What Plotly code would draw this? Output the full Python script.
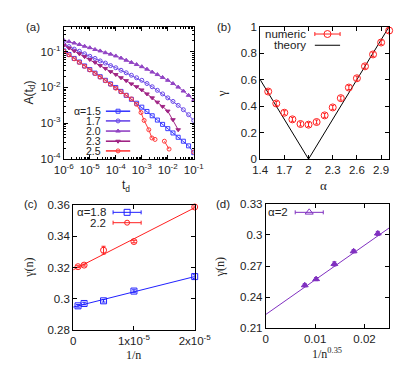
import plotly.graph_objects as go

W, H = 415, 369

# ---------------- panel (a) data (log10 values) ----------------
a_grid = [-6.0, -5.8, -5.6, -5.4, -5.2, -5.0, -4.8, -4.6, -4.4, -4.2, -4.0, -3.8, -3.6,
          -3.4, -3.2, -3.0, -2.8, -2.6, -2.4, -2.2, -2.0, -1.8, -1.6, -1.4, -1.2, -1.0]
a15 = [-0.98, -1.08, -1.19, -1.29, -1.40, -1.50, -1.60, -1.70, -1.80, -1.90, -2.00, -2.11, -2.22,
       -2.33, -2.44, -2.55, -2.67, -2.79, -2.91, -3.03, -3.15, -3.27, -3.39, -3.50, -3.63, -3.82]
a17 = [-0.80, -0.86, -0.93, -0.99, -1.06, -1.13, -1.19, -1.26, -1.32, -1.39, -1.45, -1.52, -1.59,
       -1.66, -1.73, -1.80, -1.89, -1.98, -2.08, -2.18, -2.29, -2.39, -2.50, -2.62, -2.76, -2.92]
a20 = [-0.68, -0.72, -0.76, -0.80, -0.85, -0.89, -0.94, -0.98, -1.03, -1.07, -1.12, -1.18, -1.24,
       -1.30, -1.36, -1.42, -1.49, -1.57, -1.64, -1.72, -1.80, -1.89, -1.99, -2.10, -2.22, -2.36]
a23_x = [-6.0, -5.8, -5.6, -5.4, -5.2, -5.0, -4.8, -4.6, -4.4, -4.2, -4.0, -3.8, -3.6,
         -3.4, -3.2, -3.0, -2.8, -2.6, -2.4, -2.2, -2.0, -1.8, -1.6]
a23 = [-0.82, -0.90, -0.98, -1.06, -1.14, -1.22, -1.30, -1.39, -1.47, -1.56, -1.64, -1.73, -1.81,
       -1.90, -1.98, -2.07, -2.18, -2.29, -2.41, -2.53, -2.66, -2.90, -3.18]
a25_x = [-6.0, -5.8, -5.6, -5.4, -5.2, -5.0, -4.8, -4.6, -4.4, -4.2, -4.0, -3.8, -3.6,
         -3.4, -3.2, -3.03, -2.91, -2.73, -2.61, -2.49, None, -2.13, -1.95, None, -1.0]
a25 = [-0.99, -1.09, -1.20, -1.30, -1.41, -1.51, -1.61, -1.71, -1.81, -1.91, -2.02, -2.12, -2.22,
       -2.32, -2.47, -2.70, -2.92, -3.18, -3.41, -3.45, None, -3.50, -3.72, None, -3.80]
a_labels = ["α=1.5", "1.7", "2.0", "2.3", "2.5"]
a_colors = ["#3a3aff", "#6a48e8", "#9244c4", "#a02484", "#ff3a3a"]
a_symbols = ["square-open", "circle-open", "triangle-up", "triangle-down", "circle-open"]
a_xticks = [1e-6, 1e-5, 1e-4, 1e-3, 1e-2, 1e-1]
a_xtext = ["10<sup>-6</sup>", "10<sup>-5</sup>", "10<sup>-4</sup>", "10<sup>-3</sup>",
           "10<sup>-2</sup>", "10<sup>-1</sup>"]
a_yticks = [1e-4, 1e-3, 1e-2, 1e-1]
a_ytext = ["10<sup>-4</sup>", "10<sup>-3</sup>", "10<sup>-2</sup>", "10<sup>-1</sup>"]

# ---------------- panel (b) ----------------
b_alpha = [1.5, 1.6, 1.7, 1.8, 1.9, 2.0, 2.1, 2.2, 2.3, 2.4, 2.5, 2.6, 2.7, 2.8, 2.9, 3.0]
b_gamma = [0.51, 0.42, 0.35, 0.30, 0.265, 0.26, 0.28, 0.33, 0.39, 0.46, 0.54, 0.61, 0.70, 0.79, 0.88, 0.97]
b_err = [0.015] * 16
b_theory_alpha = [1.4, 2.0, 3.0]
b_theory_gamma = [0.6, 0.0, 1.0]

# ---------------- panel (c) ----------------
c_x = [8e-7, 1.8e-6, 5e-6, 1e-5, 2e-5]
c_y18 = [0.2956, 0.2971, 0.2988, 0.3050, 0.3142]
c_e18 = [0.0008, 0.0008, 0.0008, 0.0008, 0.0012]
c_y22 = [0.3205, 0.3215, 0.3310, 0.3365, 0.3585]
c_e22 = [0.0006, 0.0006, 0.0025, 0.0008, 0.0006]
c_fit_x = [0.0, 2e-5]
c_fit18 = [0.2948, 0.3142]
c_fit22 = [0.3185, 0.3580]

# ---------------- panel (d) ----------------
d_x = [0.0079, 0.0102, 0.0139, 0.0178, 0.0227]
d_y = [0.2515, 0.2574, 0.2720, 0.2842, 0.3013]
d_e = [0.0015, 0.0015, 0.0020, 0.0015, 0.0020]
d_fit_x = [0.0, 0.025]
d_fit_y = [0.2234, 0.3066]


def px_x(x0, x1):
    return [x0 / W, x1 / W]


def px_y(y0, y1):
    return [1 - y1 / H, 1 - y0 / H]


fig = go.Figure()
TXT = "#222222"
FONT = "Liberation Sans"
SERIF = "Liberation Serif"

# panel (a)
for xs, ys, lab, col, sym in zip([a_grid, a_grid, a_grid, a23_x, a25_x],
                                 [a15, a17, a20, a23, a25], a_labels, a_colors, a_symbols):
    fig.add_trace(go.Scatter(
        x=[None if v is None else 10 ** v for v in xs],
        y=[None if v is None else 10 ** v for v in ys],
        mode="lines+markers", line=dict(color=col, width=1),
        marker=dict(symbol=sym, size=4, color=col, line=dict(color=col, width=1)),
        connectgaps=False, showlegend=False, xaxis="x", yaxis="y"))

# panel (b)
fig.add_trace(go.Scatter(x=b_theory_alpha, y=b_theory_gamma, mode="lines",
                         line=dict(color="black", width=1), showlegend=False,
                         xaxis="x2", yaxis="y2"))
fig.add_trace(go.Scatter(x=b_alpha, y=b_gamma, mode="markers",
                         marker=dict(symbol="circle-open", size=7, color="#ff2020",
                                     line=dict(width=1)),
                         error_y=dict(type="data", array=b_err, color="#ff2020",
                                      thickness=1, width=1.5),
                         showlegend=False, xaxis="x2", yaxis="y2", cliponaxis=False))

# panel (c)
fig.add_trace(go.Scatter(x=c_fit_x, y=c_fit18, mode="lines", line=dict(color="#2020ff", width=1),
                         showlegend=False, xaxis="x3", yaxis="y3"))
fig.add_trace(go.Scatter(x=c_fit_x, y=c_fit22, mode="lines", line=dict(color="#ff2020", width=1),
                         showlegend=False, xaxis="x3", yaxis="y3"))
fig.add_trace(go.Scatter(x=c_x, y=c_y18, mode="markers",
                         marker=dict(symbol="square-open", size=6, color="#2020ff", line=dict(width=1)),
                         error_y=dict(type="data", array=c_e18, color="#2020ff", thickness=1, width=2),
                         showlegend=False, xaxis="x3", yaxis="y3", cliponaxis=False))
fig.add_trace(go.Scatter(x=c_x, y=c_y22, mode="markers",
                         marker=dict(symbol="circle-open", size=6, color="#ff2020", line=dict(width=1)),
                         error_y=dict(type="data", array=c_e22, color="#ff2020", thickness=1, width=2),
                         showlegend=False, xaxis="x3", yaxis="y3", cliponaxis=False))

# panel (d)
PURP = "#8030c0"
fig.add_trace(go.Scatter(x=d_fit_x, y=d_fit_y, mode="lines", line=dict(color=PURP, width=1),
                         showlegend=False, xaxis="x4", yaxis="y4"))
fig.add_trace(go.Scatter(x=d_x, y=d_y, mode="markers",
                         marker=dict(symbol="triangle-up", size=6, color=PURP, line=dict(width=1, color=PURP)),
                         error_y=dict(type="data", array=d_e, color=PURP, thickness=1, width=2),
                         showlegend=False, xaxis="x4", yaxis="y4"))

# ---------------- key samples on a pixel overlay axis ----------------
def key(xc, yc, half, col, sym, size, err=False, lw=1):
    if err:
        fig.add_trace(go.Scatter(x=[xc], y=[yc], mode="markers",
                                 marker=dict(symbol=sym, size=size, color=col, line=dict(width=1, color=col)),
                                 error_x=dict(type="data", array=[half], color=col, thickness=1, width=2),
                                 showlegend=False, xaxis="x5", yaxis="y5"))
    else:
        fig.add_trace(go.Scatter(x=[xc - half, xc + half], y=[yc, yc], mode="lines",
                                 line=dict(color=col, width=lw), showlegend=False,
                                 xaxis="x5", yaxis="y5"))
        if sym:
            fig.add_trace(go.Scatter(x=[xc], y=[yc], mode="markers",
                                     marker=dict(symbol=sym, size=size, color=col, line=dict(width=1, color=col)),
                                     showlegend=False, xaxis="x5", yaxis="y5"))


annotations = []


def text(x, y, s, size=11, xanchor="center", font=FONT, angle=0, pad=1):
    annotations.append(dict(x=x / W, y=1 - y / H, xref="paper", yref="paper", text=s,
                            showarrow=False, xanchor=xanchor, yanchor="middle", textangle=angle,
                            borderpad=pad,
                            font=dict(family=font, size=size, color=TXT)))


a_rows = [100.5, 110.5, 121, 131.5, 141.5]
for lab, col, sym, yy in zip(a_labels, a_colors, a_symbols, a_rows):
    key(107, yy, 13, col, sym, 4, lw=1.6)
    text(90, yy, lab, size=10.5, xanchor="right", pad=0)

key(331, 20.7, 13.5, "#ff2020", "circle-open", 7, err=True)
text(309, 20.7, "numeric", size=11.5, xanchor="right", pad=0)
key(331, 32.3, 13.5, "black", None, 0)
text(309, 32.3, "theory", size=11.5, xanchor="right", pad=0)

key(116.7, 205, 15, "#2020ff", "square-open", 6, err=True)
text(95, 205, "α=1.8", size=11.5, xanchor="right", pad=0)
key(116.7, 215.7, 15, "#ff2020", "circle-open", 5, err=True)
text(95, 215.7, "2.2", size=11.5, xanchor="right", pad=0)

key(311.5, 205, 15, PURP, "triangle-up-open", 7, err=True)
text(291, 205, "α=2", size=11.5, xanchor="right")

# panel labels and axis titles
text(6, 13, "(a)", size=11.5, xanchor="left")
text(211, 13, "(b)", size=11.5, xanchor="left")
text(4, 196, "(c)", size=11.5, xanchor="left")
text(210, 196, "(d)", size=11.5, xanchor="left")
text(13, 81, "A(t<sub>d</sub>)", size=12, angle=-90)
text(116, 178, "t<sub>d</sub>", size=12)
text(217, 82, "γ", size=13, font=SERIF, angle=-90)
text(327, 177, "α", size=13, font=SERIF)
text(12, 262, "γ(n)", size=12, font=SERIF, angle=-90)
text(124, 352, "1/n", size=12, font=SERIF)
text(217, 262, "γ(n)", size=12, font=SERIF, angle=-90)
text(331, 351, "1/n<sup>0.35</sup>", size=12, font=SERIF)

tickfont = dict(family=FONT, size=11.5, color=TXT)
common = dict(showline=True, linecolor="black", linewidth=1, mirror="ticks", ticks="inside",
              ticklen=4, tickcolor="black", showgrid=False, zeroline=False, tickfont=tickfont,
              fixedrange=True)

fig.update_layout(
    width=W, height=H, margin=dict(l=0, r=0, t=0, b=0),
    paper_bgcolor="white", plot_bgcolor="rgba(0,0,0,0)",
    annotations=annotations,
    xaxis=dict(domain=px_x(49, 188), type="log", range=[-6, -1], tickvals=a_xticks, ticktext=a_xtext,
               anchor="y", minor=dict(ticks="inside", ticklen=2, dtick="D1", tickcolor="black"), **common),
    yaxis=dict(domain=px_y(13, 150), type="log", range=[-4, -0.301], tickvals=a_yticks, ticktext=a_ytext,
               anchor="x", minor=dict(ticks="inside", ticklen=2, dtick="D1", tickcolor="black"), **common),
    xaxis2=dict(domain=px_x(259, 397), range=[1.4, 3.0], tickvals=[1.4, 1.7, 2.0, 2.3, 2.6, 2.9],
                ticktext=["1.4", "1.7", "2", "2.3", "2.6", "2.9"], anchor="y2", **common),
    yaxis2=dict(domain=px_y(13, 150), range=[0, 1], tickvals=[0, 0.2, 0.4, 0.6, 0.8, 1],
                ticktext=["0", "0.2", "0.4", "0.6", "0.8", "1"], anchor="x2", **common),
    xaxis3=dict(domain=px_x(59, 189), range=[0, 2e-5], tickvals=[0, 1e-5, 2e-5],
                ticktext=["0", "1x10<sup>-5</sup>", "2x10<sup>-5</sup>"], anchor="y3", **common),
    yaxis3=dict(domain=px_y(197, 327), range=[0.28, 0.36], tickvals=[0.28, 0.30, 0.32, 0.34, 0.36],
                ticktext=["0.28", "0.3", "0.32", "0.34", "0.36"], anchor="x3", **common),
    xaxis4=dict(domain=px_x(265, 397), range=[0, 0.025], tickvals=[0, 0.01, 0.02],
                ticktext=["0", "0.01", "0.02"], anchor="y4", **common),
    yaxis4=dict(domain=px_y(196, 325), range=[0.21, 0.33], tickvals=[0.21, 0.24, 0.27, 0.30, 0.33],
                ticktext=["0.21", "0.24", "0.27", "0.3", "0.33"], anchor="x4", **common),
    xaxis5=dict(domain=[0, 1], range=[0, W], visible=False, anchor="y5", fixedrange=True),
    yaxis5=dict(domain=[0, 1], range=[H, 0], visible=False, anchor="x5", fixedrange=True),
)

fig.write_html("out.html")
